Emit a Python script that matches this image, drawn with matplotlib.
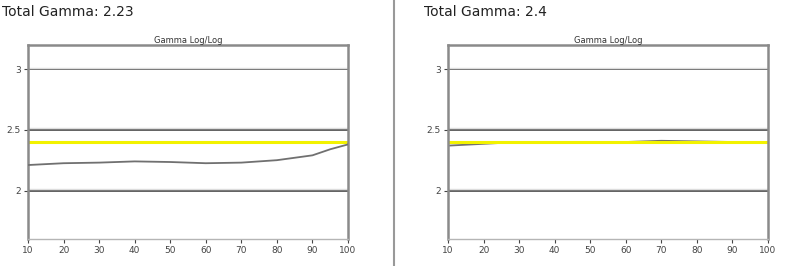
import matplotlib
matplotlib.use('Agg')
import matplotlib.pyplot as plt
from matplotlib.lines import Line2D

# data
brightness = [10, 20, 30, 40, 50, 60, 70, 80, 90, 95, 100]
gamma_left = [2.21, 2.225, 2.23, 2.24, 2.235, 2.225, 2.23, 2.25, 2.29, 2.34, 2.38]
brightness_right = [10, 20, 30, 40, 50, 60, 70, 80, 90, 100]
gamma_right = [2.37, 2.385, 2.4, 2.4, 2.4, 2.4, 2.41, 2.405, 2.4, 2.4]
target_gamma = 2.4
titles = ['Total Gamma: 2.23', 'Total Gamma: 2.4']
xticks = [10, 20, 30, 40, 50, 60, 70, 80, 90, 100]
yticks = [2, 2.5, 3]
ytick_labels = ['2', '2.5', '3']

fig = plt.figure(figsize=(7.92, 2.66), dpi=100)

panels = [(brightness, gamma_left), (brightness_right, gamma_right)]
lefts = [28 / 792, 448 / 792]
title_x = [2 / 792, 424 / 792]

for i, (xs, ys) in enumerate(panels):
    ax = fig.add_axes([lefts[i], 27 / 266, 320 / 792, 194 / 266])
    ax.set_xlim(10, 100)
    ax.set_ylim(1.6, 3.2)
    for y in yticks:
        ax.axhline(y, color='#555555', lw=1.3, zorder=1)
        ax.axhline(y + 0.012, color='#dddddd', lw=1.0, zorder=1)
    ax.axhline(target_gamma, color='#f2f200', lw=2.2, zorder=2)
    ax.plot(xs, ys, color='#707070', lw=1.3, zorder=3 if i == 0 else 1.5)
    for s in ax.spines.values():
        s.set_color('#8a8a8a')
        s.set_linewidth(1.8)
    ax.spines['bottom'].set_color('#b5b5b5')
    ax.spines['bottom'].set_linewidth(1.0)
    ax.set_xticks(xticks)
    ax.set_yticks(yticks)
    ax.set_yticklabels(ytick_labels)
    ax.tick_params(labelsize=6.5, colors='#444444', length=3, width=0.8, pad=2)
    ax.set_title('Gamma Log/Log', fontsize=6, color='#333333', pad=1)
    fig.text(title_x[i], 1 - 12 / 266, titles[i], fontsize=10, color='#222222',
             va='center', ha='left')

fig.add_artist(Line2D([394 / 792, 394 / 792], [0, 1], color='#999999', lw=1.5))

fig.savefig('out.png', dpi=100)
